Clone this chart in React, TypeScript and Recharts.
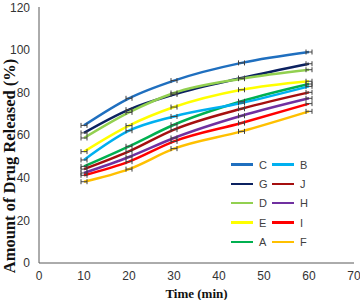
import { LineChart, Line, XAxis, YAxis } from "recharts"

const times = [10, 20, 30, 45, 60]
const xTicks = [0, 10, 20, 30, 40, 50, 60, 70]
const yTicks = [0, 20, 40, 60, 80, 100, 120]

const seriesC = [64.5, 77.2, 85.5, 93.8, 98.9]
const seriesG = [61, 71.9, 79, 86.7, 93.4]
const seriesD = [58.6, 70.6, 79.7, 86.4, 90.6]
const seriesE = [52.2, 64.4, 73.1, 81.2, 85.2]
const seriesA = [45.3, 54.7, 64.8, 75.8, 83.9]
const seriesB = [48.3, 62, 68.7, 75, 82.8]
const seriesJ = [44, 52.3, 62.5, 72.3, 80]
const seriesH = [42.2, 49.7, 58.6, 69, 77.2]
const seriesI = [41.1, 47.5, 57, 65.6, 74.7]
const seriesF = [38.1, 44, 53.6, 61.7, 71.1]

const series = [
  { key: "C", values: seriesC, color: "#1F6FBF" },
  { key: "G", values: seriesG, color: "#0B2160" },
  { key: "D", values: seriesD, color: "#92D050" },
  { key: "E", values: seriesE, color: "#FFFF00" },
  { key: "A", values: seriesA, color: "#00B050" },
  { key: "B", values: seriesB, color: "#00B0F0" },
  { key: "J", values: seriesJ, color: "#A50F0F" },
  { key: "H", values: seriesH, color: "#7030A0" },
  { key: "I", values: seriesI, color: "#FF0000" },
  { key: "F", values: seriesF, color: "#FFC000" },
]

const data = times.map((t, i) => {
  const row: any = { time: t }
  series.forEach((s) => (row[s.key] = s.values[i]))
  return row
})

// small horizontal error bar with caps, drawn at each point
const ErrDot = (props: any) => {
  const { cx, cy, key } = props
  if (cx == null || cy == null) return <g key={key} />
  return (
    <g key={key} stroke="#404040" strokeWidth={1} fill="none">
      <line x1={cx - 3} y1={cy} x2={cx + 3} y2={cy} />
      <line x1={cx - 3} y1={cy - 2.5} x2={cx - 3} y2={cy + 2.5} />
      <line x1={cx + 3} y1={cy - 2.5} x2={cx + 3} y2={cy + 2.5} />
    </g>
  )
}

const LegendGrid = () => (
  <div
    style={{
      position: "absolute",
      left: 231,
      top: 155,
      display: "grid",
      gridTemplateColumns: "41px 40px",
    }}
  >
    {[0, 1, 2, 3, 4].map((r) =>
      [series[r], series[r + 5]].map((s) => (
        <div key={s.key} style={{ display: "flex", alignItems: "center", height: 19.3 }}>
          <span style={{ width: 22, height: 2.5, background: s.color, marginRight: 6 }} />
          <span style={{ fontFamily: "Liberation Sans, Arial", fontSize: 11, color: "#404040" }}>{s.key}</span>
        </div>
      ))
    )}
  </div>
)

export default function App() {
  return (
    <div style={{ position: "relative", width: 360, height: 300, background: "#fff" }}>
      <style>{"body{margin:0}"}</style>
      <LineChart width={360} height={300} data={data} margin={{ top: 7, right: 6, left: 0, bottom: 0 }}>
        <XAxis
          dataKey="time"
          type="number"
          domain={[0, 70]}
          ticks={xTicks}
          tickLine={false}
          stroke="#595959"
          height={37}
          tick={{ fill: "#333", fontSize: 12, fontFamily: "Liberation Sans, Arial" }}
          tickMargin={2}
          label={{
            value: "Time (min)",
            position: "insideBottom",
            offset: 2,
            fill: "#111",
            style: { fontFamily: "Liberation Serif, Times New Roman", fontWeight: "bold", fontSize: 13 },
          }}
        />
        <YAxis
          type="number"
          domain={[0, 120]}
          ticks={yTicks}
          tickLine={false}
          stroke="#595959"
          width={39}
          tick={{ fill: "#333", fontSize: 12, fontFamily: "Liberation Sans, Arial" }}
          tickMargin={3}
          label={{
            content: () => (
              <text
                x={15}
                y={166}
                transform="rotate(-90,15,166)"
                textAnchor="middle"
                fill="#111"
                style={{ fontFamily: "Liberation Serif, Times New Roman", fontWeight: "bold", fontSize: 16.5 }}
              >
                Amount of Drug Released (%)
              </text>
            ),
          }}
        />
        {series.map((s) => (
          <Line
            key={s.key}
            type="monotone"
            dataKey={s.key}
            stroke={s.color}
            strokeWidth={2.5}
            dot={false}
            isAnimationActive={false}
          />
        ))}
        {series.map((s) => (
          <Line
            key={"err" + s.key}
            type="monotone"
            dataKey={s.key}
            stroke="none"
            dot={<ErrDot />}
            legendType="none"
            isAnimationActive={false}
          />
        ))}
      </LineChart>
      <LegendGrid />
    </div>
  )
}
